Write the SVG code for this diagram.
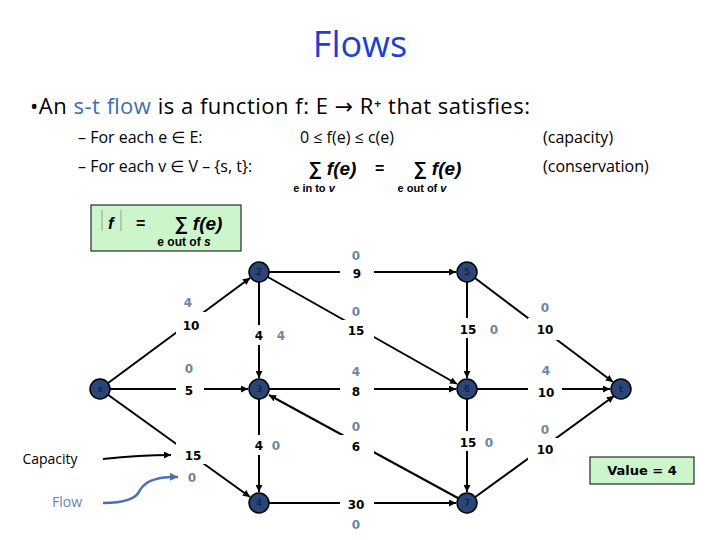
<svg xmlns="http://www.w3.org/2000/svg" width="720" height="540" viewBox="0 0 720 540">
<defs>
<marker id="ah" viewBox="0 0 10 10" refX="10" refY="5" markerWidth="7" markerHeight="7" orient="auto" markerUnits="userSpaceOnUse"><path d="M0,0L10,5L0,10z" fill="#000"/></marker>
<marker id="ahb" viewBox="0 0 10 10" refX="10" refY="5" markerWidth="8" markerHeight="8" orient="auto" markerUnits="userSpaceOnUse"><path d="M0,0L10,5L0,10z" fill="#4a72b0"/></marker>
</defs>
<style>
.e{stroke:#000;stroke-width:2;fill:none}
.n circle{fill:#2a4577;stroke:#000;stroke-width:1.5}
.n text{font-family:"DejaVu Sans",sans-serif;font-size:9px;fill:#08132e;text-anchor:middle}
.c{font-family:"DejaVu Sans",sans-serif;font-size:12px;font-weight:bold;fill:#000;text-anchor:middle}
.f{font-family:"DejaVu Sans",sans-serif;font-size:12px;font-weight:bold;fill:#6a86a8;text-anchor:middle}
.g{fill:#fff}
.t{font-family:"Open Sans","DejaVu Sans",sans-serif}
.m{font-family:"Liberation Sans",Arial,sans-serif;font-weight:bold;font-style:italic}
</style>
<rect width="720" height="540" fill="#fff"/>
<text x="360" y="57" class="t" font-size="36" font-weight="500" fill="#1f3fd0" text-anchor="middle">Flows</text>
<text x="30" y="114" class="t" font-size="22" fill="#000" textLength="500">•An <tspan fill="#3a6fb0">s-t flow</tspan> is a function  f: E → R⁺  that satisfies:</text>
<text x="78" y="143" class="t" font-size="16" fill="#000">–  For each e ∈ E:</text>
<text x="300" y="143" class="t" font-size="16" fill="#000">0  ≤  f(e)  ≤ c(e)</text>
<text x="543" y="143" class="t" font-size="16" fill="#000">(capacity)</text>
<text x="78" y="172" class="t" font-size="16" fill="#000">–  For each v ∈ V – {s, t}:</text>
<text x="543" y="172" class="t" font-size="16" fill="#000">(conservation)</text>
<text x="308" y="175" class="m" font-size="19">∑ f(e)</text>
<text x="314" y="192" font-family="Liberation Sans,sans-serif" font-weight="bold" font-size="11" text-anchor="middle">e in to <tspan font-style="italic">v</tspan></text>
<text x="375" y="174" font-family="Liberation Sans,sans-serif" font-weight="bold" font-size="16">=</text>
<text x="413" y="175" class="m" font-size="19">∑ f(e)</text>
<text x="422" y="192" font-family="Liberation Sans,sans-serif" font-weight="bold" font-size="11" text-anchor="middle">e out of <tspan font-style="italic">v</tspan></text>
<g id="fbox">
<rect x="91" y="205" width="150" height="46" fill="#ccf5cc" stroke="#000" stroke-width="1"/>
<line x1="102" y1="210" x2="102" y2="231" stroke="#999"/>
<text x="108" y="229" class="m" font-size="17">f</text>
<line x1="121" y1="210" x2="121" y2="231" stroke="#999"/>
<text x="136" y="229" font-family="Liberation Sans,sans-serif" font-weight="bold" font-size="16">=</text>
<text x="174" y="230" class="m" font-size="19">∑ f(e)</text>
<text x="184" y="246" font-family="Liberation Sans,sans-serif" font-weight="bold" font-size="12" text-anchor="middle">e out of <tspan font-style="italic">s</tspan></text>
</g>
<g id="edges">
<line class="e" x1="100" y1="389" x2="250" y2="278" marker-end="url(#ah)"/>
<line class="e" x1="100" y1="389" x2="248" y2="389" marker-end="url(#ah)"/>
<line class="e" x1="100" y1="389" x2="250" y2="497" marker-end="url(#ah)"/>
<line class="e" x1="259" y1="272" x2="259" y2="378" marker-end="url(#ah)"/>
<line class="e" x1="259" y1="389" x2="259" y2="492" marker-end="url(#ah)"/>
<line class="e" x1="259" y1="272" x2="456" y2="272" marker-end="url(#ah)"/>
<line class="e" x1="259" y1="272" x2="457" y2="384" marker-end="url(#ah)"/>
<line class="e" x1="259" y1="389" x2="456" y2="389" marker-end="url(#ah)"/>
<line class="e" x1="467" y1="503" x2="269" y2="395" marker-end="url(#ah)"/>
<line class="e" x1="259" y1="503" x2="456" y2="503" marker-end="url(#ah)"/>
<line class="e" x1="467" y1="272" x2="467" y2="378" marker-end="url(#ah)"/>
<line class="e" x1="467" y1="389" x2="467" y2="492" marker-end="url(#ah)"/>
<line class="e" x1="467" y1="272" x2="613" y2="382" marker-end="url(#ah)"/>
<line class="e" x1="467" y1="389" x2="610" y2="389" marker-end="url(#ah)"/>
<line class="e" x1="467" y1="503" x2="614" y2="396" marker-end="url(#ah)"/>
<g class="g">
<rect x="176" y="312" width="32" height="22"/><rect x="176" y="378" width="28" height="22"/><rect x="176" y="442" width="32" height="22"/>
<rect x="249" y="325" width="20" height="20"/><rect x="249" y="435" width="20" height="20"/>
<rect x="340" y="262" width="34" height="20"/><rect x="340" y="320" width="34" height="20"/><rect x="340" y="380" width="34" height="20"/><rect x="340" y="435" width="34" height="20"/><rect x="340" y="493" width="34" height="20"/>
<rect x="455" y="318" width="26" height="20"/><rect x="455" y="431" width="26" height="20"/>
<rect x="528" y="318" width="34" height="22"/><rect x="528" y="380" width="34" height="22"/><rect x="528" y="438" width="34" height="22"/>
</g>
<path d="M103,459 Q140,455 171,455" class="e" stroke-width="3" marker-end="url(#ah)"/>
<path d="M103,503 Q135,503 140,490 Q148,476 178,477" fill="none" stroke="#4a72b0" stroke-width="2.5" marker-end="url(#ahb)"/>
</g>
<g id="labels">
<text class="f" x="188" y="307">4</text><text class="c" x="191" y="330">10</text>
<text class="f" x="189" y="373">0</text><text class="c" x="189" y="395">5</text>
<text class="c" x="193" y="460">15</text><text class="f" x="192" y="482">0</text>
<text class="c" x="259" y="340">4</text><text class="f" x="281" y="340">4</text>
<text class="c" x="259" y="450">4</text><text class="f" x="276" y="450">0</text>
<text class="f" x="356" y="260">0</text><text class="c" x="357" y="278">9</text>
<text class="f" x="356" y="316">0</text><text class="c" x="356" y="335">15</text>
<text class="f" x="356" y="376">4</text><text class="c" x="356" y="396">8</text>
<text class="f" x="356" y="431">0</text><text class="c" x="356" y="451">6</text>
<text class="c" x="356" y="509">30</text><text class="f" x="356" y="529">0</text>
<text class="c" x="468" y="334">15</text><text class="f" x="494" y="334">0</text>
<text class="c" x="468" y="447">15</text><text class="f" x="489" y="447">0</text>
<text class="f" x="545" y="312">0</text><text class="c" x="545" y="334">10</text>
<text class="f" x="546" y="375">4</text><text class="c" x="546" y="397">10</text>
<text class="f" x="545" y="434">0</text><text class="c" x="545" y="454">10</text>
<text x="50" y="464" class="c" style="font-size:14px;font-weight:normal;font-family:'Open Sans',sans-serif">Capacity</text>
<text x="67" y="507" class="f" style="font-size:14px;font-weight:normal;font-family:'Open Sans',sans-serif">Flow</text>
</g>
<g id="value"><rect x="590" y="457" width="104" height="27" fill="#ccf5cc" stroke="#000" stroke-width="1"/><text x="642" y="475" class="c" style="font-size:13px">Value = 4</text></g>
<g id="n-s" class="n"><circle cx="100" cy="389" r="10"/><text x="100" y="392">s</text></g>
<g id="n-2" class="n"><circle cx="259" cy="272" r="10"/><text x="259" y="275">2</text></g>
<g id="n-3" class="n"><circle cx="259" cy="389" r="10"/><text x="259" y="392">3</text></g>
<g id="n-4" class="n"><circle cx="259" cy="503" r="10"/><text x="259" y="506">4</text></g>
<g id="n-5" class="n"><circle cx="467" cy="272" r="10"/><text x="467" y="275">5</text></g>
<g id="n-6" class="n"><circle cx="467" cy="389" r="10"/><text x="467" y="392">6</text></g>
<g id="n-7" class="n"><circle cx="467" cy="503" r="10"/><text x="467" y="506">7</text></g>
<g id="n-t" class="n"><circle cx="621" cy="389" r="10"/><text x="621" y="392">t</text></g>
</svg>
